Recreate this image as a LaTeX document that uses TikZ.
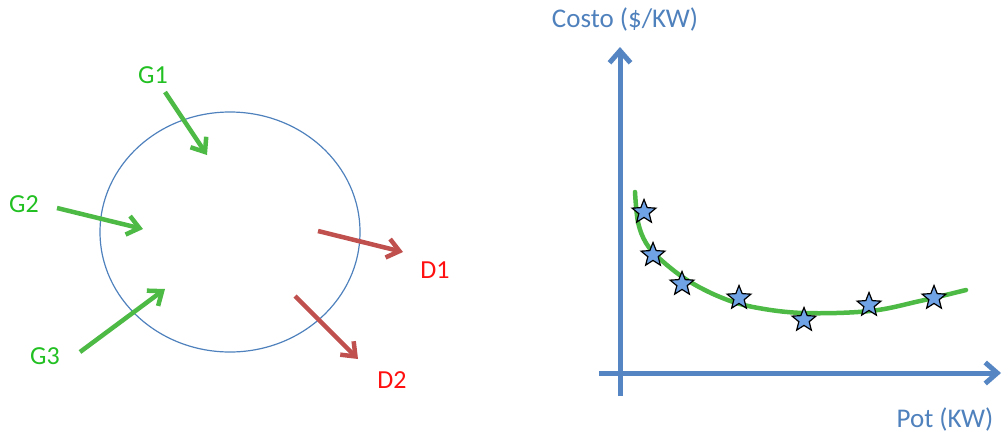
\documentclass[tikz,border=0pt]{standalone}
\usepackage{fontspec}
\setmainfont{Carlito}
\usetikzlibrary{arrows.meta,shapes.geometric}
\definecolor{garrow}{HTML}{4DBA45}
\definecolor{gtext}{HTML}{22C022}
\definecolor{rarrow}{HTML}{C0504D}
\definecolor{rtext}{HTML}{FF1010}
\definecolor{cblue}{HTML}{4F81BD}
\definecolor{axblue}{HTML}{5585C2}
\definecolor{starfill}{HTML}{6FA3E6}
\tikzset{
  flow/.style={line width=4.5pt, -{Straight Barb[length=12pt,width=19pt,line width=4.5pt]}},
  gflow/.style={flow, draw=garrow},
  rflow/.style={flow, draw=rarrow},
  glabel/.style={text=gtext, font=\fontsize{26}{30}\selectfont, inner sep=0pt},
  rlabel/.style={text=rtext, font=\fontsize{26}{30}\selectfont, inner sep=0pt},
  axlabel/.style={text=cblue, font=\fontsize{27}{31}\selectfont, inner sep=0pt},
  axis/.style={line width=5pt, draw=axblue, -{Straight Barb[length=12pt,width=21pt,line width=5pt]}},
  starmark/.style={star, star points=5, star point ratio=2.3, minimum size=25pt, inner sep=0pt, fill=starfill, draw=black, line width=1.2pt},
}
\begin{document}
\begin{tikzpicture}[x=1pt,y=-1pt]
\useasboundingbox (0,0) rectangle (1003,434);
% bus circle
\node[draw=cblue, line width=1.2pt, ellipse, minimum width=260pt, minimum height=240pt, inner sep=0pt] (bus) at (230,232) {};
% labels
\node[glabel] (g1) at (153,75) {G1};
\node[glabel] (g2) at (24,204) {G2};
\node[glabel] (g3) at (45,356) {G3};
\node[rlabel] (d1) at (435,270) {D1};
\node[rlabel] (d2) at (392,380) {D2};
% arrow ends
\coordinate (g1s) at (165,92);  \coordinate (g1e) at (207,155);
\coordinate (g2s) at (57,208);  \coordinate (g2e) at (143,229);
\coordinate (g3s) at (80,352);  \coordinate (g3e) at (165,289);
\coordinate (d1s) at (318,231); \coordinate (d1e) at (403,252);
\coordinate (d2s) at (295,296); \coordinate (d2e) at (358,359);
\draw[gflow] (g1s) -- (g1e);
\draw[gflow] (g2s) -- (g2e);
\draw[gflow] (g3s) -- (g3e);
\draw[rflow] (d1s) -- (d1e);
\draw[rflow] (d2s) -- (d2e);
% axes
\coordinate (o) at (620,373);
\coordinate (ybot) at (620,396);
\coordinate (ytop) at (620,47);
\coordinate (xleft) at (599,373);
\coordinate (xright) at (1001,373);
\draw[axis] (ybot) -- (ytop);
\draw[axis] (xleft) -- (xright);
\node[axlabel] (ylab) at (625,19) {Costo (\$/KW)};
\node[axlabel] (xlab) at (945,419) {Pot (KW)};
% curve
\draw[draw=garrow, line width=4.5pt, line cap=round] plot[smooth, tension=0.6] coordinates {
  (635,192) (638,222) (646,243) (660,259) (687,280) (720,297) (753,307) (803,313) (870,311) (920,301) (966,290)};
% stars
\node[starmark] (s1) at (644,212) {};
\node[starmark] (s2) at (653,255) {};
\node[starmark] (s3) at (682,284) {};
\node[starmark] (s4) at (739,298) {};
\node[starmark] (s5) at (804,320) {};
\node[starmark] (s6) at (869,305) {};
\node[starmark] (s7) at (934,298) {};
\end{tikzpicture}
\end{document}
